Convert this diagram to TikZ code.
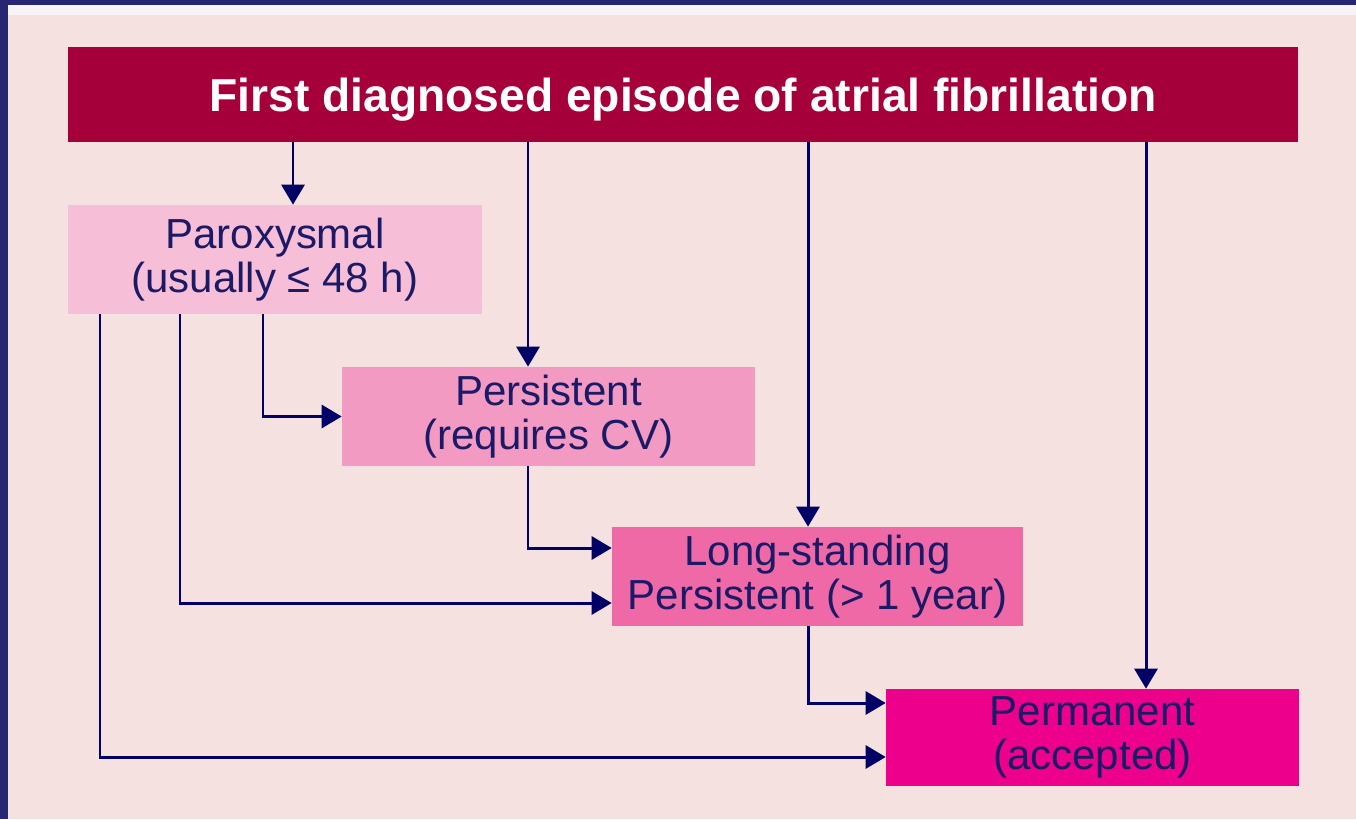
\documentclass[tikz,border=0pt]{standalone}
\usepackage{fontspec}
\setmainfont{Liberation Sans}
\usetikzlibrary{arrows.meta}
\usetikzlibrary{calc}

\definecolor{frameblue}{HTML}{262673}
\definecolor{stripwhite}{HTML}{F7F3F7}
\definecolor{slidepink}{HTML}{F5E1E0}
\definecolor{titlered}{HTML}{A6003A}
\definecolor{paropink}{HTML}{F7BED7}
\definecolor{perspink}{HTML}{F39AC2}
\definecolor{longpink}{HTML}{EE69A6}
\definecolor{permpink}{HTML}{EC008C}
\definecolor{textnavy}{HTML}{1A1A66}
\definecolor{arrownavy}{HTML}{000066}

\begin{document}
\begin{tikzpicture}[x=0.02cm, y=-0.02cm,
  box/.style={rectangle, inner sep=0pt, align=center, text=textnavy,
    font=\fontsize{23.9}{24.8}\selectfont},
  link/.style={draw=arrownavy, line width=1.7pt, -{Triangle[length=4mm, width=4.6mm]}}]

\useasboundingbox (0,0) rectangle (1356,819);
\fill[frameblue] (0,0) rectangle (1356,819);
\fill[stripwhite] (8,5) rectangle (1356,15);
\fill[slidepink] (8,15) rectangle (1356,819);

\node[box, fill=titlered, text=white, minimum width=24.6cm, minimum height=1.9cm,
  text height=24.5pt, text depth=5.5pt,
  font=\bfseries\fontsize{26.3}{28}\selectfont] (first) at (683,94.5)
  {First diagnosed episode of atrial fibrillation};
\node[box, fill=paropink, minimum width=8.28cm, minimum height=2.18cm] (para) at (275,259.5)
  {Paroxysmal\\(usually ≤ 48 h)};
\node[box, fill=perspink, minimum width=8.26cm, minimum height=1.98cm] (pers) at (548.5,416.5)
  {Persistent\\(requires CV)};
\node[box, fill=longpink, minimum width=8.22cm, minimum height=1.98cm] (long) at (817.5,576.5)
  {Long-standing\\Persistent (> 1 year)};
\node[box, fill=permpink, minimum width=8.26cm, minimum height=1.94cm] (perm) at (1092.5,737.5)
  {Permanent\\(accepted)};

\draw[link] (first.south -| 293,0) -- (para.north -| 293,0);
\draw[link] (first.south -| 528,0) -- (pers.north -| 528,0);
\draw[link] (first.south -| 808,0) -- (long.north -| 808,0);
\draw[link] (first.south -| 1146,0) -- (perm.north -| 1146,0);

\draw[link] (para.south -| 263,0) |- (pers.west);
\draw[link] (para.south -| 180,0) |- (long.west |- 0,603);
\draw[link] (para.south -| 100,0) |- (perm.west |- 0,757);
\draw[link] (pers.south -| 528,0) |- (long.west |- 0,548);
\draw[link] (long.south -| 808,0) |- (perm.west |- 0,703);
\end{tikzpicture}
\end{document}
